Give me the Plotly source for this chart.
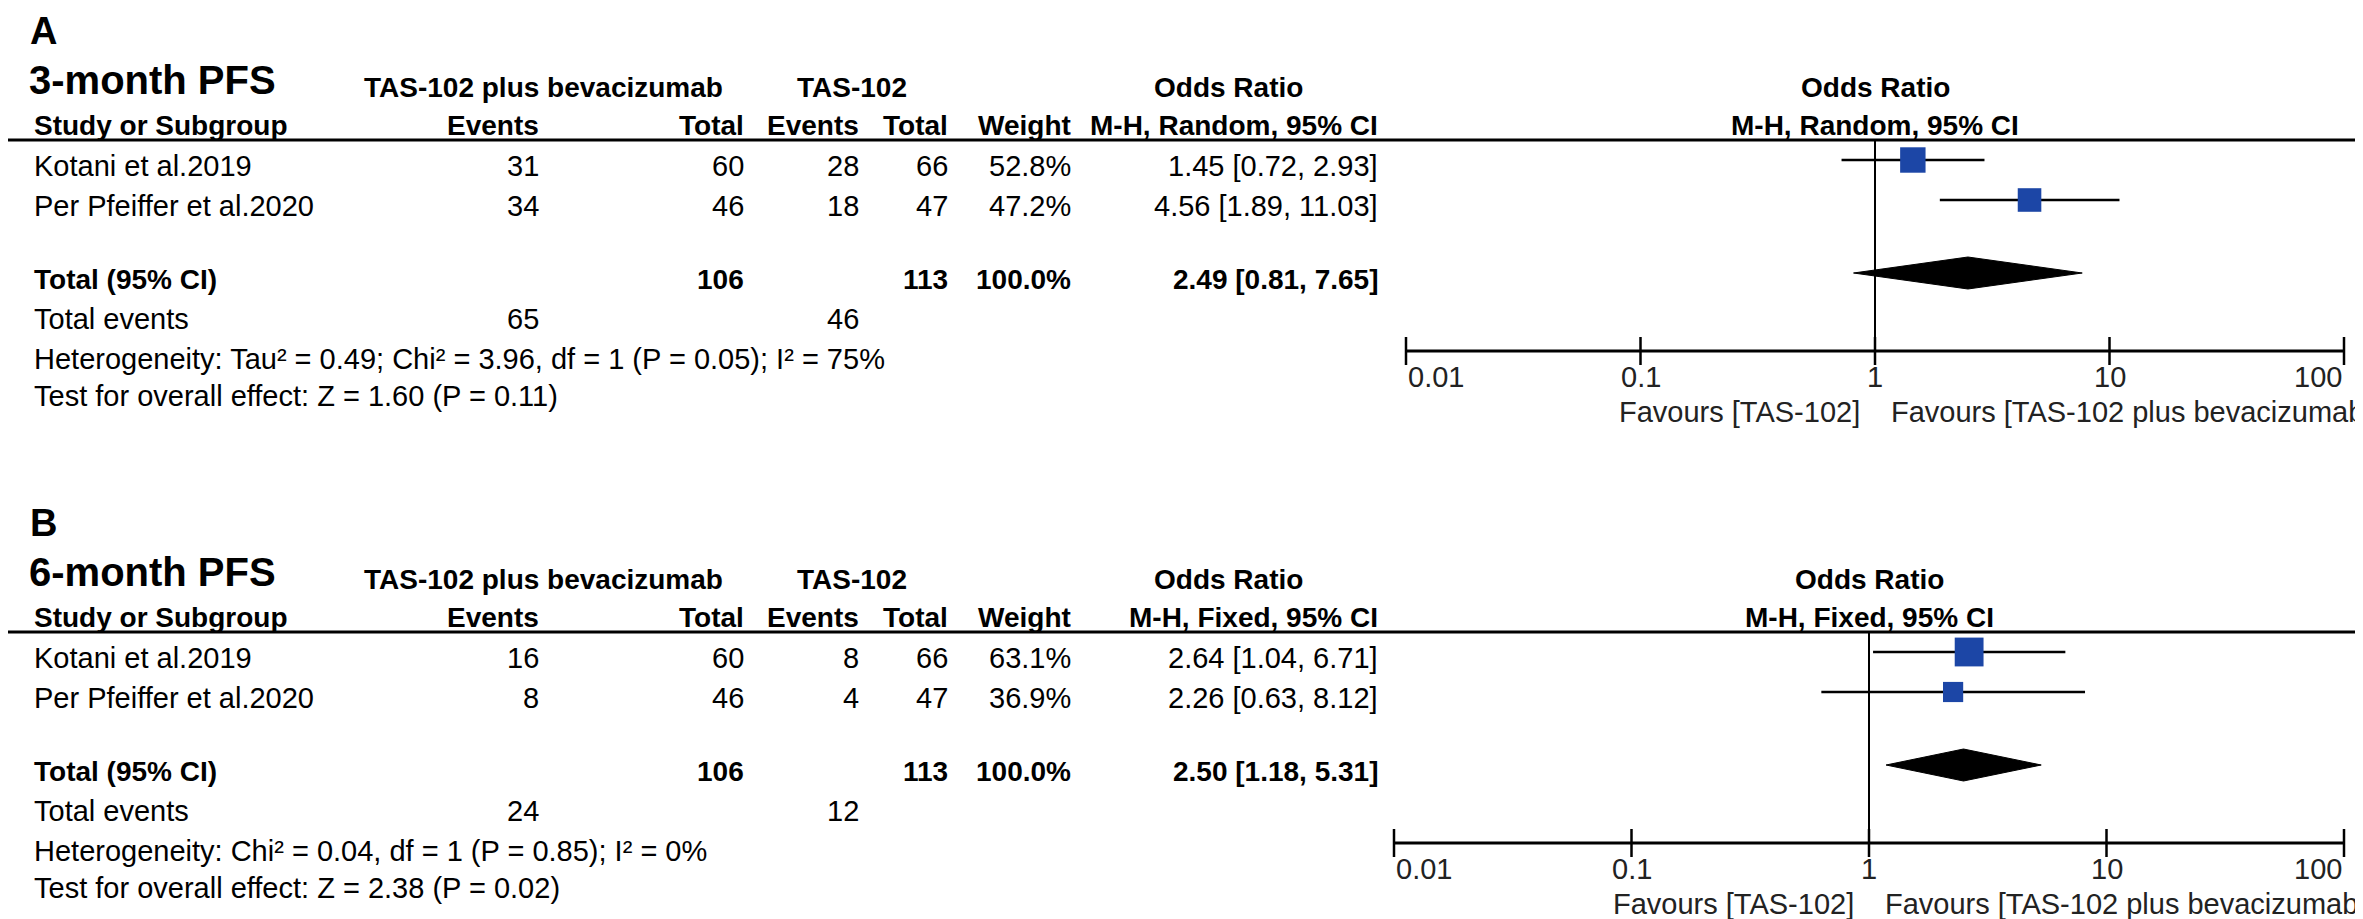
import math
import plotly.graph_objects as go

W, H = 2363, 919
FONT = "Liberation Sans, Arial, sans-serif"
BLUE = "#1c46a6"

studies = ["Kotani et al.2019", "Per Pfeiffer et al.2020"]
ticks = [0.01, 0.1, 1, 10, 100]
tick_text = ["0.01", "0.1", "1", "10", "100"]

# 3-month PFS (random effects)
m3_exp_events = [31, 34]
m3_exp_total = [60, 46]
m3_ctl_events = [28, 18]
m3_ctl_total = [66, 47]
m3_weight = [52.8, 47.2]
m3_or = [1.45, 4.56]
m3_lo = [0.72, 1.89]
m3_hi = [2.93, 11.03]
m3_pooled = [2.49, 0.81, 7.65]
m3_sum_exp = [65, 106]   # events, total
m3_sum_ctl = [46, 113]
m3_het = "Heterogeneity: Tau² = 0.49; Chi² = 3.96, df = 1 (P = 0.05); I² = 75%"
m3_test = "Test for overall effect: Z = 1.60 (P = 0.11)"

# 6-month PFS (fixed effect)
m6_exp_events = [16, 8]
m6_exp_total = [60, 46]
m6_ctl_events = [8, 4]
m6_ctl_total = [66, 47]
m6_weight = [63.1, 36.9]
m6_or = [2.64, 2.26]
m6_lo = [1.04, 0.63]
m6_hi = [6.71, 8.12]
m6_pooled = [2.50, 1.18, 5.31]
m6_sum_exp = [24, 106]
m6_sum_ctl = [12, 113]
m6_het = "Heterogeneity: Chi² = 0.04, df = 1 (P = 0.85); I² = 0%"
m6_test = "Test for overall effect: Z = 2.38 (P = 0.02)"

panels = [
    dict(label="A", title="3-month PFS", method="M-H, Random, 95% CI", xa="x", off=0,
         ev=m3_exp_events, tot=m3_exp_total, cev=m3_ctl_events, ctot=m3_ctl_total,
         w=m3_weight, est=m3_or, lo=m3_lo, hi=m3_hi, pooled=m3_pooled,
         sexp=m3_sum_exp, sctl=m3_sum_ctl, het=m3_het, test=m3_test),
    dict(label="B", title="6-month PFS", method="M-H, Fixed, 95% CI", xa="x2", off=492,
         ev=m6_exp_events, tot=m6_exp_total, cev=m6_ctl_events, ctot=m6_ctl_total,
         w=m6_weight, est=m6_or, lo=m6_lo, hi=m6_hi, pooled=m6_pooled,
         sexp=m6_sum_exp, sctl=m6_sum_ctl, het=m6_het, test=m6_test),
]

fig = go.Figure()


def txt(s, x, y, anchor="left", bold=False, size=29, xref="paper", color="black", xshift=0):
    # paper x is given in px; on the log axes annotations need log10 of the value
    xv = x / W if xref == "paper" else math.log10(x)
    fig.add_annotation(text=f"<b>{s}</b>" if bold else str(s),
                       x=xv, y=y, xref=xref, yref="y",
                       xanchor=anchor, yanchor="middle", showarrow=False, xshift=xshift,
                       font=dict(size=size, color=color, family=FONT))


# column positions (px)
C_STUDY, C_EV, C_TOT, C_CEV, C_CTOT, C_W, C_OR = 24, 533, 738, 853, 942, 1065, 1372
HB = 28  # bold header size

for p in panels:
    o = p["off"]
    xa = p["xa"]
    row_y = [158 + o, 198 + o]
    mk_dy = -6

    txt(p["label"], 20, 23 + o, bold=True, size=38)
    txt(p["title"], 19, 72 + o, bold=True, size=40)

    # headers
    txt("TAS-102 plus bevacizumab", 535, 79 + o, "center", True, HB)
    txt("TAS-102", 844, 79 + o, "center", True, HB)
    txt("Odds Ratio", 1220, 79 + o, "center", True, HB)
    txt("Odds Ratio", 1, 79 + o, "center", True, HB, xref=xa)
    txt("Study or Subgroup", C_STUDY, 117 + o, bold=True, size=HB)
    txt("Events", C_EV, 117 + o, "right", True, HB)
    txt("Total", C_TOT, 117 + o, "right", True, HB)
    txt("Events", C_CEV, 117 + o, "right", True, HB)
    txt("Total", C_CTOT, 117 + o, "right", True, HB)
    txt("Weight", C_W, 117 + o, "right", True, HB)
    txt(p["method"], C_OR, 117 + o, "right", True, HB)
    txt(p["method"], 1, 117 + o, "center", True, HB, xref=xa)

    fig.add_shape(type="line", xref="paper", yref="y", x0=0, x1=1,
                  y0=132 + o, y1=132 + o, line=dict(color="black", width=3))

    # study rows
    for i, name in enumerate(studies):
        y = row_y[i]
        txt(name, C_STUDY, y)
        txt(p["ev"][i], C_EV, y, "right")
        txt(p["tot"][i], C_TOT, y, "right")
        txt(p["cev"][i], C_CEV, y, "right")
        txt(p["ctot"][i], C_CTOT, y, "right")
        txt(f"{p['w'][i]:.1f}%", C_W, y, "right")
        txt(f"{p['est'][i]:.2f} [{p['lo'][i]:.2f}, {p['hi'][i]:.2f}]", C_OR, y, "right")

    # totals
    yt = 271 + o
    est, lo, hi = p["pooled"]
    txt("Total (95% CI)", C_STUDY, yt, bold=True, size=HB)
    txt(p["sexp"][1], C_TOT, yt, "right", True, HB)
    txt(p["sctl"][1], C_CTOT, yt, "right", True, HB)
    txt("100.0%", C_W, yt, "right", True, HB)
    txt(f"{est:.2f} [{lo:.2f}, {hi:.2f}]", C_OR, yt, "right", True, HB)
    txt("Total events", C_STUDY, 311 + o)
    txt(p["sexp"][0], C_EV, 311 + o, "right")
    txt(p["sctl"][0], C_CEV, 311 + o, "right")
    txt(p["het"], C_STUDY, 351 + o)
    txt(p["test"], C_STUDY, 388 + o)

    # forest plot
    ya = "y"
    ax_y = 343 + o
    fig.add_trace(go.Scatter(x=[1, 1], y=[132 + o, ax_y], mode="lines", xaxis=xa, yaxis=ya,
                             line=dict(color="black", width=2), hoverinfo="skip"))
    for i in range(len(studies)):
        y = row_y[i] + mk_dy
        fig.add_trace(go.Scatter(x=[p["lo"][i], p["hi"][i]], y=[y, y], mode="lines",
                                 xaxis=xa, yaxis=ya, line=dict(color="black", width=2.5)))
    fig.add_trace(go.Scatter(x=p["est"], y=[v + mk_dy for v in row_y], mode="markers",
                             xaxis=xa, yaxis=ya, opacity=1,
                             marker=dict(symbol="square", color=BLUE, opacity=1,
                                         size=[8 + 0.33 * w for w in p["w"]], line=dict(width=0))))
    yd = yt + mk_dy
    fig.add_trace(go.Scatter(x=[lo, est, hi, est, lo], y=[yd, yd - 16, yd, yd + 16, yd],
                             mode="lines", fill="toself", fillcolor="black",
                             xaxis=xa, yaxis=ya, line=dict(color="black", width=1)))

    # axis
    fig.add_trace(go.Scatter(x=[ticks[0], ticks[-1]], y=[ax_y, ax_y], mode="lines",
                             xaxis=xa, yaxis=ya, cliponaxis=False,
                             line=dict(color="black", width=3)))
    fig.add_trace(go.Scatter(x=ticks, y=[ax_y] * len(ticks), mode="markers",
                             xaxis=xa, yaxis=ya, cliponaxis=False,
                             marker=dict(symbol="line-ns", size=20,
                                         line=dict(color="black", width=2.5))))
    for j, (tv, tl) in enumerate(zip(ticks, tick_text)):
        anchor = "left" if j == 0 else ("right" if j == len(ticks) - 1 else "center")
        txt(tl, tv, 369 + o, anchor, xref=xa, color="#222")
    txt("Favours [TAS-102]", 1, 404 + o, "right", xref=xa, color="#222", xshift=-13)
    txt("Favours [TAS-102 plus bevacizumab]", 1, 404 + o, "left", xref=xa, color="#222", xshift=14)

fig.update_layout(
    width=W, height=H, margin=dict(l=0, r=0, t=0, b=0),
    paper_bgcolor="white", plot_bgcolor="rgba(0,0,0,0)", showlegend=False,
    xaxis=dict(type="log", range=[-2, 2], domain=[1398 / W, 2336 / W], anchor="y", visible=False),
    xaxis2=dict(type="log", range=[-2, 2], domain=[1386 / W, 2336 / W], anchor="y", visible=False),
    yaxis=dict(range=[H, 0], domain=[0, 1], anchor="x", visible=False),
)

fig.write_html("out.html")
